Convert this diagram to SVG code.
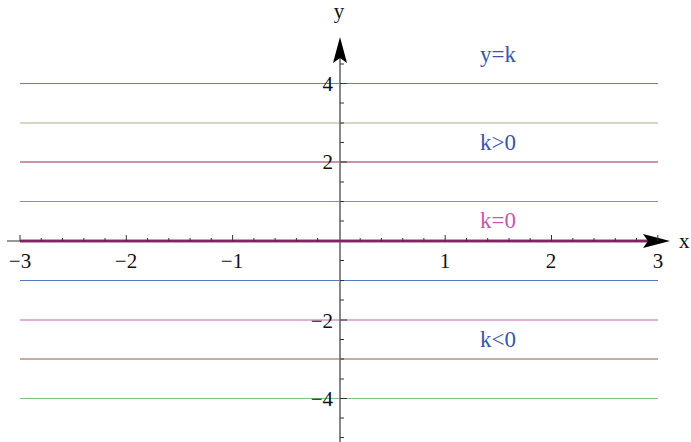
<svg xmlns="http://www.w3.org/2000/svg" width="691" height="442" viewBox="0 0 691 442">
<style>
.lv{stroke-width:1.2;fill:none}
.tick{stroke:#333;stroke-width:1}
.num{font-family:"Liberation Serif",serif;font-size:21px;fill:#111}
.lab{font-family:"Liberation Serif",serif;font-size:23px;text-anchor:middle}
.ax{font-family:"Liberation Serif",serif;font-size:21px;fill:#111}
</style>
<rect width="691" height="442" fill="#fff"/>
<g id="lines">
<line class="lv" x1="20" y1="83.5" x2="658" y2="83.5" stroke="#4f9a6b"/>
<line class="lv" x1="20" y1="123" x2="658" y2="123" stroke="#b5ac80"/>
<line class="lv" x1="20" y1="162" x2="658" y2="162" stroke="#a02060"/>
<line class="lv" x1="20" y1="201.5" x2="658" y2="201.5" stroke="#8888cc"/>
<line class="lv" x1="20" y1="280.5" x2="658" y2="280.5" stroke="#5577bb"/>
<line class="lv" x1="20" y1="320" x2="658" y2="320" stroke="#c060b0"/>
<line class="lv" x1="20" y1="359" x2="658" y2="359" stroke="#9a5a2a"/>
<line class="lv" x1="20" y1="398.5" x2="658" y2="398.5" stroke="#80c080"/>
</g>
<g id="y-axis">
<line x1="340" y1="55" x2="340" y2="442" stroke="#888" stroke-width="2"/>
<path d="M340 37 L347 63 L340 58 L333 63 Z" fill="#000"/>
<g class="tick">
<line x1="340" y1="64" x2="344" y2="64"/>
<line x1="340" y1="83.5" x2="347" y2="83.5"/>
<line x1="340" y1="103" x2="344" y2="103"/>
<line x1="340" y1="123" x2="344" y2="123"/>
<line x1="340" y1="142.5" x2="344" y2="142.5"/>
<line x1="340" y1="162" x2="347" y2="162"/>
<line x1="340" y1="182" x2="344" y2="182"/>
<line x1="340" y1="201.5" x2="344" y2="201.5"/>
<line x1="340" y1="221" x2="344" y2="221"/>
<line x1="340" y1="260.5" x2="344" y2="260.5"/>
<line x1="340" y1="280.5" x2="344" y2="280.5"/>
<line x1="340" y1="300" x2="344" y2="300"/>
<line x1="340" y1="320" x2="347" y2="320"/>
<line x1="340" y1="339.5" x2="344" y2="339.5"/>
<line x1="340" y1="359" x2="344" y2="359"/>
<line x1="340" y1="379" x2="344" y2="379"/>
<line x1="340" y1="398.5" x2="347" y2="398.5"/>
<line x1="340" y1="418" x2="344" y2="418"/>
<line x1="340" y1="437.5" x2="344" y2="437.5"/>
</g>
<text class="num" x="333" y="91" text-anchor="end">4</text>
<text class="num" x="333" y="169" text-anchor="end">2</text>
<text class="num" x="333" y="328" text-anchor="end">−2</text>
<text class="num" x="333" y="406" text-anchor="end">−4</text>
<text class="ax" x="339" y="18" text-anchor="middle">y</text>
</g>
<g id="x-axis">
<line x1="7" y1="241" x2="650" y2="241" stroke="#333" stroke-width="1"/>
<line x1="20" y1="241" x2="658" y2="241" stroke="#a0307a" stroke-width="3"/>
<line x1="20" y1="241" x2="658" y2="241" stroke="#5a1040" stroke-width="0.8"/>
<path d="M670 241 L643 234 L648 241 L643 248 Z" fill="#000"/>
<g class="tick">
<line x1="20" y1="241" x2="20" y2="235"/>
<line x1="41.3" y1="241" x2="41.3" y2="238"/>
<line x1="62.5" y1="241" x2="62.5" y2="238"/>
<line x1="83.8" y1="241" x2="83.8" y2="238"/>
<line x1="105" y1="241" x2="105" y2="238"/>
<line x1="126.3" y1="241" x2="126.3" y2="235"/>
<line x1="147.6" y1="241" x2="147.6" y2="238"/>
<line x1="168.8" y1="241" x2="168.8" y2="238"/>
<line x1="190.1" y1="241" x2="190.1" y2="238"/>
<line x1="211.3" y1="241" x2="211.3" y2="238"/>
<line x1="232.6" y1="241" x2="232.6" y2="235"/>
<line x1="253.9" y1="241" x2="253.9" y2="238"/>
<line x1="275.1" y1="241" x2="275.1" y2="238"/>
<line x1="296.4" y1="241" x2="296.4" y2="238"/>
<line x1="317.6" y1="241" x2="317.6" y2="238"/>
<line x1="360.2" y1="241" x2="360.2" y2="238"/>
<line x1="381.4" y1="241" x2="381.4" y2="238"/>
<line x1="402.7" y1="241" x2="402.7" y2="238"/>
<line x1="423.9" y1="241" x2="423.9" y2="238"/>
<line x1="445.2" y1="241" x2="445.2" y2="235"/>
<line x1="466.5" y1="241" x2="466.5" y2="238"/>
<line x1="487.7" y1="241" x2="487.7" y2="238"/>
<line x1="509" y1="241" x2="509" y2="238"/>
<line x1="530.2" y1="241" x2="530.2" y2="238"/>
<line x1="551.5" y1="241" x2="551.5" y2="235"/>
<line x1="572.8" y1="241" x2="572.8" y2="238"/>
<line x1="594" y1="241" x2="594" y2="238"/>
<line x1="615.3" y1="241" x2="615.3" y2="238"/>
<line x1="636.5" y1="241" x2="636.5" y2="238"/>
<line x1="657.8" y1="241" x2="657.8" y2="235"/>
</g>
<text class="num" x="20" y="268" text-anchor="middle">−3</text>
<text class="num" x="126" y="268" text-anchor="middle">−2</text>
<text class="num" x="232" y="268" text-anchor="middle">−1</text>
<text class="num" x="445" y="268" text-anchor="middle">1</text>
<text class="num" x="551" y="268" text-anchor="middle">2</text>
<text class="num" x="658" y="268" text-anchor="middle">3</text>
<text class="ax" x="679" y="248">x</text>
</g>
<g id="labels">
<text class="lab" x="498" y="62" fill="#3a55a8">y=k</text>
<text class="lab" x="498" y="150" fill="#3a55a8">k&gt;0</text>
<text class="lab" x="498" y="228" fill="#cc55aa">k=0</text>
<text class="lab" x="498" y="347" fill="#3a55a8">k&lt;0</text>
</g>
</svg>
